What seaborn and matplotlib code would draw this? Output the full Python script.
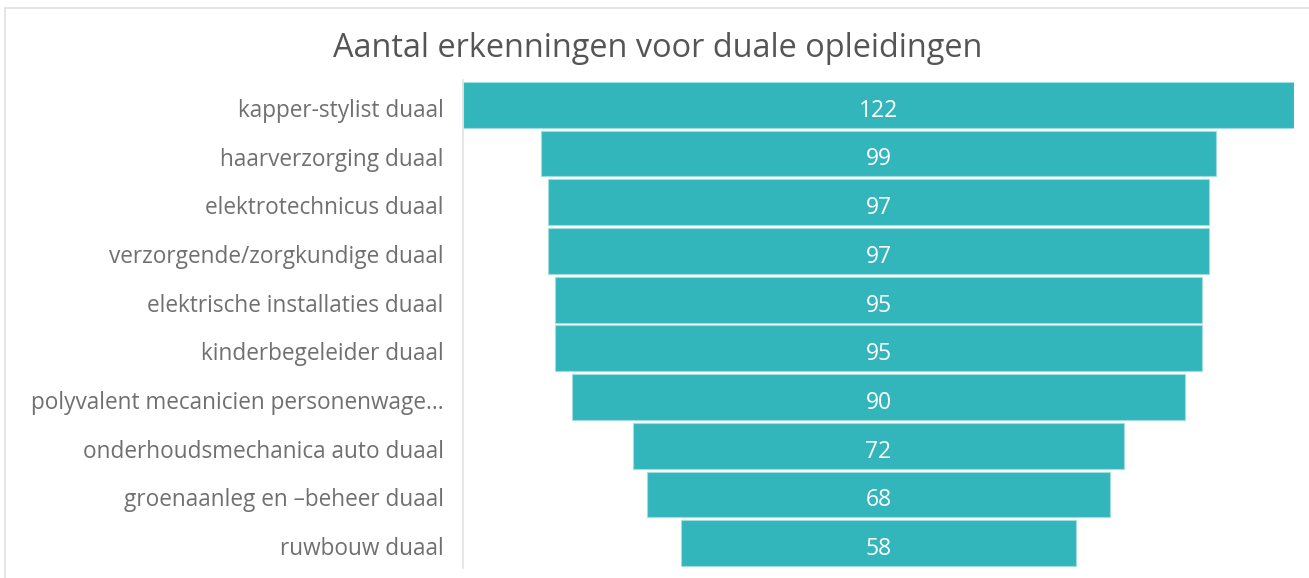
#Funnel chart: aantal erkenningen voor duale opleidingen
import pandas as pd
import numpy as np
import matplotlib
matplotlib.use("Agg")
import matplotlib.pyplot as plt
from matplotlib.lines import Line2D
from matplotlib.transforms import ScaledTranslation
import seaborn as sns

# data
opleidingen = [
    "kapper-stylist duaal",
    "haarverzorging duaal",
    "elektrotechnicus duaal",
    "verzorgende/zorgkundige duaal",
    "elektrische installaties duaal",
    "kinderbegeleider duaal",
    "polyvalent mecanicien personenwage...",
    "onderhoudsmechanica auto duaal",
    "groenaanleg en \u2013beheer duaal",
    "ruwbouw duaal",
]
erkenningen = [122, 99, 97, 97, 95, 95, 90, 72, 68, 58]
titel = "Aantal erkenningen voor duale opleidingen"

df = pd.DataFrame({"opleiding": opleidingen, "aantal": erkenningen})

sns.set_style("white")
plt.rcParams['font.family'] = ['Open Sans', 'DejaVu Sans']

teal = "#32b6bc"
fig = plt.figure(figsize=(13.09, 5.78), dpi=100)
ax = fig.add_axes([463/1309, 1 - 567.5/578, 831/1309, (567.5 - 80.5)/578])

sns.barplot(data=df, x="aantal", y="opleiding", color=teal, saturation=1,
            width=0.94, edgecolor="#9fdde0", linewidth=0.8, ax=ax)

# center every bar to make the funnel
top = max(erkenningen)
for patch, v in zip(ax.patches, erkenningen):
    patch.set_x((top - patch.get_width()) / 2)
    ax.text(top / 2, patch.get_y() + patch.get_height() / 2 + 0.245, str(v),
            ha="center", va="baseline", color="white", fontsize=16.5)

ax.set_xlim(0, top)
ax.set_ylim(len(opleidingen) - 0.5, -0.5)
ax.set_xlabel("")
ax.set_ylabel("")
ax.set_xticks([])
ax.tick_params(axis="y", length=0, pad=14, labelsize=16.3, labelcolor="#707070")
shift = ScaledTranslation(0, -3/100, fig.dpi_scale_trans)
for lbl in ax.get_yticklabels():
    lbl.set_verticalalignment("center_baseline")
    lbl.set_transform(lbl.get_transform() + shift)
sns.despine(ax=ax, top=True, right=True, bottom=True, left=False)
ax.spines["left"].set_color("#e3e3e3")
ax.spines["left"].set_linewidth(1.2)

fig.text(658/1309, 1 - 57/578, titel, ha="center", va="baseline",
         fontsize=23.4, color="#555555")

# thin frame lines at top and left of the picture
fig.add_artist(Line2D([5/1309, 1], [1 - 8/578, 1 - 8/578], color="#e0e0e0", lw=1.2))
fig.add_artist(Line2D([5/1309, 5/1309], [0, 1 - 8/578], color="#e0e0e0", lw=1.2))

fig.savefig("out.png", dpi=100)
